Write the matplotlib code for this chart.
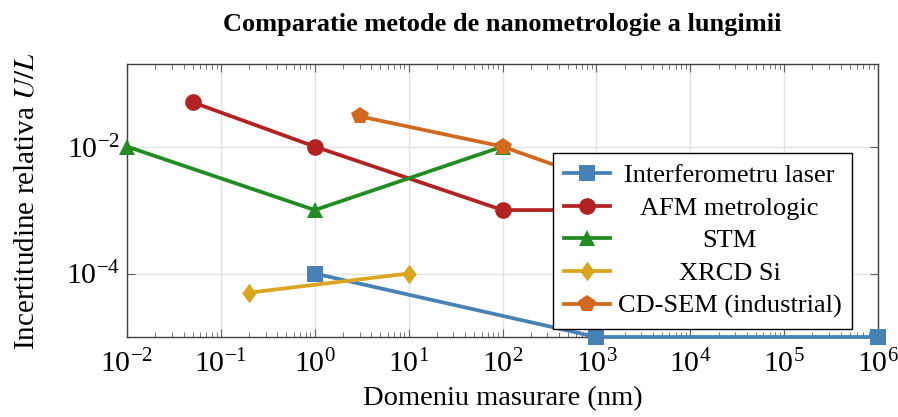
import matplotlib
matplotlib.use("Agg")
import matplotlib.pyplot as plt
from matplotlib.ticker import LogLocator, NullLocator, NullFormatter
from matplotlib.path import Path

plt.rcParams['font.family'] = ['Liberation Serif', 'DejaVu Serif']
plt.rcParams['mathtext.fontset'] = 'stix'

# ---- data ----
laser_x = [1, 1e3, 1e6]
laser_y = [1e-4, 1e-5, 1e-5]
afm_x = [0.05, 1, 100, 1e3]
afm_y = [5e-2, 1e-2, 1e-3, 1e-3]
stm_x = [0.01, 1, 100]
stm_y = [1e-2, 1e-3, 1e-2]
xrcd_x = [0.2, 10]
xrcd_y = [5e-5, 1e-4]
cdsem_x = [3, 100, 1e3]
cdsem_y = [3e-2, 1e-2, 3e-3]

labels = ["Interferometru laser", "AFM metrologic", "STM", "XRCD Si",
          "CD-SEM (industrial)"]
colors = ["#4682B4", "#B22222", "#228B22", "#DAA520", "#D2691E"]
diamond = Path([(0, 1), (0.75, 0), (0, -1), (-0.75, 0), (0, 1)],
               [Path.MOVETO, Path.LINETO, Path.LINETO, Path.LINETO, Path.CLOSEPOLY])
markers = ["s", "o", "^", diamond, "p"]
msizes = [12, 12, 12, 14, 13]

series = [(laser_x, laser_y), (afm_x, afm_y), (stm_x, stm_y),
          (xrcd_x, xrcd_y), (cdsem_x, cdsem_y)]

fig = plt.figure(figsize=(8.98, 4.17), dpi=100)
ax = fig.add_axes([127/898, 1-337/417, (878-127)/898, (337-64)/417])

for (xs, ys), lab, c, m, ms in zip(series, labels, colors, markers, msizes):
    ax.plot(xs, ys, color=c, marker=m, markersize=ms, linewidth=2.7,
            markeredgewidth=0, label=lab, clip_on=False, zorder=3)

ax.set_xscale('log')
ax.set_yscale('log')
ax.set_xlim(1e-2, 1e6)
ax.set_ylim(1e-5, 0.2)

ax.xaxis.set_major_locator(LogLocator(base=10, numticks=20))
ax.xaxis.set_minor_locator(LogLocator(base=10, subs=range(2, 10), numticks=20))
ax.xaxis.set_minor_formatter(NullFormatter())
ax.set_yticks([1e-4, 1e-2])
ax.yaxis.set_minor_locator(NullLocator())

ax.tick_params(which='both', direction='in', top=True, right=True,
               color='#606060', labelsize=21.5)
ax.tick_params(axis='x', which='major', pad=9)
ax.tick_params(axis='y', which='major', pad=5)
ax.tick_params(which='major', length=6, width=0.8)
ax.tick_params(which='minor', length=3.5, width=0.6)
ax.grid(True, which='major', color='#e3e3e3', linewidth=1.0, zorder=0)
ax.set_axisbelow(True)
for s in ax.spines.values():
    s.set_color('#404040')
    s.set_linewidth(1.0)

ax.set_xlabel("Domeniu masurare (nm)", fontsize=20.5, labelpad=6)
ax.set_ylabel("Incertitudine relativa $U/L$", fontsize=21, labelpad=19)
ax.set_title("Comparatie metode de nanometrologie a lungimii",
             fontsize=19, fontweight='bold', pad=24)

leg = ax.legend(loc='upper left', bbox_to_anchor=((553-127)/751, (337-153)/273),
                fontsize=19, frameon=True, fancybox=False, framealpha=1,
                edgecolor='black', handlelength=1.75, handletextpad=0.3,
                borderpad=0.4, labelspacing=0.35, borderaxespad=0)
leg.get_frame().set_linewidth(1.0)
leg.set_zorder(5)

# center legend labels within the text column
fig.canvas.draw()
r = fig.canvas.get_renderer()
texts = leg.get_texts()
widths = [t.get_window_extent(r).width for t in texts]
W = max(widths)
for t, w in zip(texts, widths):
    t.set_x((W - w) / 2)

fig.savefig("out.png", dpi=100)
